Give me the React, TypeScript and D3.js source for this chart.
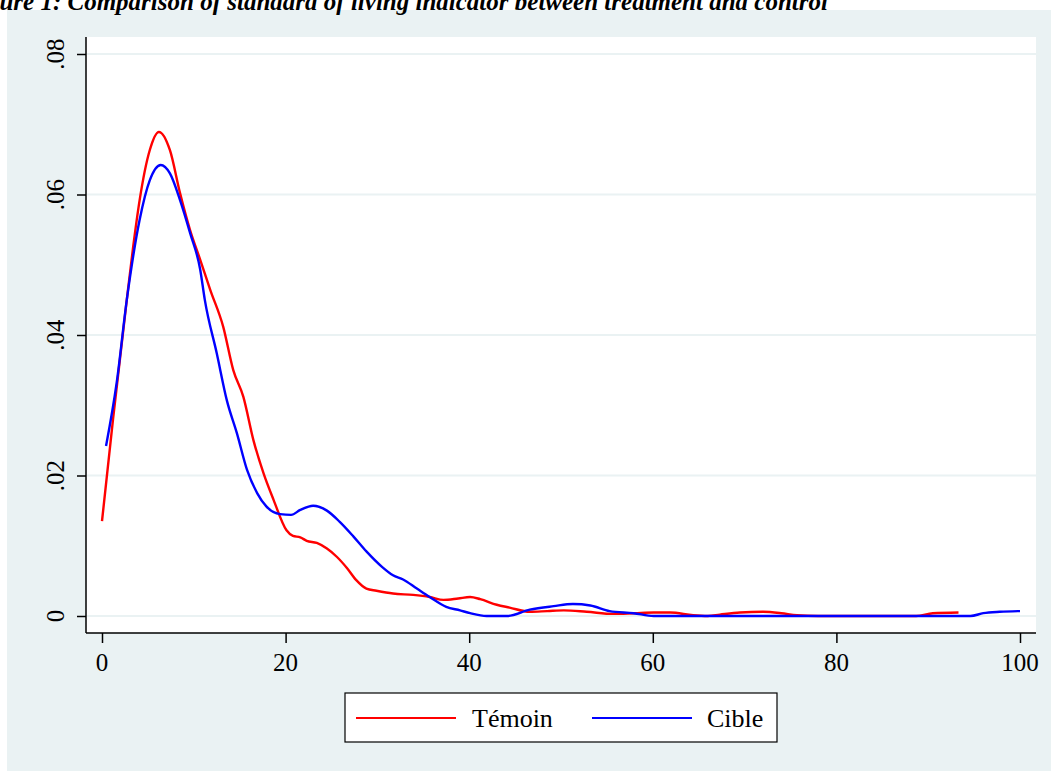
import {useEffect, useRef} from "react";
import * as d3 from "d3";

// Témoin (control) density
const temoinX = [0, 1.2, 2.7, 3.4, 4.1, 5.2, 6.2, 7.4, 8.5, 9.6, 10.7, 11.8, 13.2, 14.3, 15.4, 16.5, 17.6, 18.7, 20.1, 20.8, 21.6, 22.3, 23.4, 24.5, 25.6, 26.7, 27.7, 28.8, 29.9, 31.7, 33.9, 35.7, 37.2, 38.8, 40.1, 41.2, 43, 44.4, 46.6, 48.5, 50.3, 52.8, 55.7, 58, 60.1, 61.9, 64.4, 66, 67.3, 69.5, 72, 74, 75.7, 78, 85, 88.7, 90.5, 93.3];
const temoinD = [0.0135, 0.028, 0.045, 0.0526, 0.0592, 0.0663, 0.0689, 0.0663, 0.0602, 0.0549, 0.0507, 0.0464, 0.0412, 0.035, 0.0312, 0.025, 0.0203, 0.0165, 0.0122, 0.0114, 0.0112, 0.0107, 0.0104, 0.0096, 0.0084, 0.0068, 0.0051, 0.0039, 0.0036, 0.0032, 0.003, 0.0027, 0.0023, 0.0025, 0.0027, 0.0024, 0.0016, 0.0012, 0.0006, 0.0007, 0.0008, 0.0006, 0.0003, 0.0004, 0.0005, 0.0005, 0.0001, 0, 0.0002, 0.0005, 0.0006, 0.0004, 0.0001, 0, 0, 0, 0.0004, 0.0005];

// Cible (treatment) density
const cibleX = [0.44, 1.6, 2.7, 4.1, 5.2, 6.4, 7.4, 8.5, 9.6, 10.7, 11.2, 12.5, 13.6, 14.7, 15.8, 16.9, 17.9, 19.4, 20.6, 21.6, 23, 24.5, 25.9, 27.4, 28.8, 30.5, 31.7, 32.8, 34.3, 35.7, 37.5, 39, 40.1, 41.9, 44.1, 46.6, 49.2, 51.3, 53.2, 55.3, 57.9, 60.1, 94.6, 96, 97.8, 100];
const cibleD = [0.0242, 0.0332, 0.045, 0.0564, 0.062, 0.0642, 0.063, 0.0592, 0.0545, 0.0493, 0.045, 0.0374, 0.0307, 0.026, 0.0208, 0.0175, 0.0156, 0.0145, 0.0144, 0.0151, 0.0157, 0.015, 0.0134, 0.0113, 0.0092, 0.007, 0.0058, 0.0052, 0.0039, 0.0027, 0.0013, 0.0008, 0.0004, 0, 0, 0.0009, 0.0014, 0.0017, 0.0015, 0.0007, 0.0004, 0, 0, 0.0004, 0.0006, 0.0007];

const yTicks = [0, 0.02, 0.04, 0.06, 0.08];
const yTickLabels = ["0", ".02", ".04", ".06", ".08"];
const xTicks = [0, 20, 40, 60, 80, 100];
const seriesNames = ["Témoin", "Cible"];
const titleText = "Figure 1: Comparison of standard of living indicator between treatment and control";

const W = 1051, H = 771;
const serif = "'Liberation Serif', 'Times New Roman', serif";

const App = () => {
    const ref = useRef<SVGSVGElement | null>(null);

    useEffect(() => {
        const svg = d3.select(ref.current);
        svg.selectAll("*").remove();

        const plot = {left: 86, right: 1036, top: 37, bottom: 633};
        const x = d3.scaleLinear().domain([0, 100]).range([102, 1020]);
        const y = d3.scaleLinear().domain([0, 0.08]).range([616, 54]);

        // graph region
        svg.append("rect").attr("x", 7).attr("y", 10).attr("width", W - 7).attr("height", H - 10)
            .attr("fill", "#eaf2f3");
        svg.append("rect").attr("x", plot.left).attr("y", plot.top)
            .attr("width", plot.right - plot.left).attr("height", plot.bottom - plot.top)
            .attr("fill", "#ffffff");

        // title (cut off at the top/left like the source)
        svg.append("text").attr("x", 828).attr("y", 10).attr("text-anchor", "end")
            .attr("font-family", serif).attr("font-size", 25).attr("font-weight", "bold")
            .attr("font-style", "italic").text(titleText);

        // gridlines
        svg.append("g").selectAll("line").data(yTicks).join("line")
            .attr("x1", plot.left + 1).attr("x2", plot.right)
            .attr("y1", d => y(d)).attr("y2", d => y(d))
            .attr("stroke", "#eaf2f3").attr("stroke-width", 2);

        // y axis
        const yAxis = svg.append("g").attr("transform", `translate(${plot.left},0)`)
            .call(d3.axisLeft(y).tickValues(yTicks).tickSize(9).tickSizeOuter(0).tickFormat(() => ""));
        yAxis.select(".domain").remove();
        yAxis.selectAll("line").attr("stroke", "#000").attr("stroke-width", 1.5);
        svg.append("line").attr("x1", plot.left).attr("x2", plot.left)
            .attr("y1", plot.top).attr("y2", plot.bottom).attr("stroke", "#000").attr("stroke-width", 1.5);
        svg.append("g").selectAll("text").data(yTicks).join("text")
            .attr("transform", d => `translate(64,${y(d)}) rotate(-90)`)
            .attr("text-anchor", "middle")
            .attr("font-family", serif).attr("font-size", 25)
            .text((d, i) => yTickLabels[i]);

        // x axis
        const xAxis = svg.append("g").attr("transform", `translate(0,${plot.bottom})`)
            .call(d3.axisBottom(x).tickValues(xTicks).tickSize(10).tickSizeOuter(0).tickFormat(() => ""));
        xAxis.select(".domain").remove();
        xAxis.selectAll("line").attr("stroke", "#000").attr("stroke-width", 1.5);
        svg.append("line").attr("x1", plot.left).attr("x2", plot.right)
            .attr("y1", plot.bottom).attr("y2", plot.bottom).attr("stroke", "#000").attr("stroke-width", 1.5);
        svg.append("g").selectAll("text").data(xTicks).join("text")
            .attr("x", d => x(d)).attr("y", 671)
            .attr("text-anchor", "middle")
            .attr("font-family", serif).attr("font-size", 25)
            .text(d => String(d));

        // lines
        const line = d3.line<[number, number]>()
            .x(d => x(d[0])).y(d => y(d[1]))
            .curve(d3.curveMonotoneX);
        const temoin = temoinX.map((v, i) => [v, temoinD[i]] as [number, number]);
        const cible = cibleX.map((v, i) => [v, cibleD[i]] as [number, number]);
        svg.append("path").datum(temoin).attr("d", line).attr("fill", "none")
            .attr("stroke", "#ff0000").attr("stroke-width", 2.4);
        svg.append("path").datum(cible).attr("d", line).attr("fill", "none")
            .attr("stroke", "#0000ff").attr("stroke-width", 2.4);

        // legend
        const lg = svg.append("g");
        lg.append("rect").attr("x", 345).attr("y", 693).attr("width", 432).attr("height", 49)
            .attr("fill", "#fff").attr("stroke", "#000").attr("stroke-width", 1.2);
        const items = [
            {name: seriesNames[0], color: "#ff0000", x0: 356, tx: 472},
            {name: seriesNames[1], color: "#0000ff", x0: 592, tx: 707},
        ];
        items.forEach(it => {
            lg.append("line").attr("x1", it.x0).attr("x2", it.x0 + 100).attr("y1", 718).attr("y2", 718)
                .attr("stroke", it.color).attr("stroke-width", 2.2);
            lg.append("text").attr("x", it.tx).attr("y", 727)
                .attr("font-family", serif).attr("font-size", 26).text(it.name);
        });
    }, []);

    return <svg ref={ref} width={W} height={H}
                style={{position: "absolute", left: 0, top: 0, background: "#fff"}}/>;
};

export default App;
